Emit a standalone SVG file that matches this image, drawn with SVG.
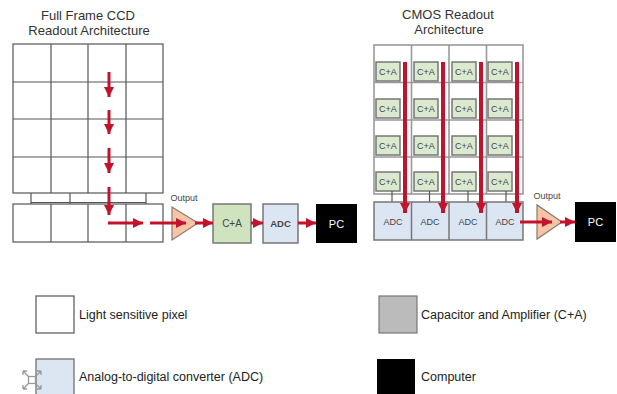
<svg xmlns="http://www.w3.org/2000/svg" width="617" height="394" viewBox="0 0 617 394">
<defs>
<style>
.t{font-family:"Liberation Sans",Arial,sans-serif;fill:#333}
.title{font-size:13px}
.leg{font-size:12.5px;fill:#222}
.grid{fill:#fff;stroke:#555;stroke-width:1.2}
.cgrid{fill:#fff;stroke:#999;stroke-width:1.6}
.ca{fill:#dbeacf;stroke:#777;stroke-width:1.5}
.adc{fill:#dce6f2;stroke:#777;stroke-width:1.5}
.pc{fill:#000}
.amp{fill:#f7c4a5;stroke:#8a7a70;stroke-width:1.2}
.red{stroke:#c3132c;stroke-width:3;fill:none}
.redb{stroke:#c3132c;stroke-width:4;fill:none}
.sm{font-size:9px;fill:#444}
.wh{fill:#fff}
.lbl{fill:#444}
</style>
<marker id="ah" viewBox="0 0 10 10" refX="10" refY="5" markerWidth="3.4" markerHeight="3.4" markerUnits="strokeWidth" orient="auto">
<path d="M0,0 L10,5 L0,10 z" fill="#c3132c"/>
</marker>
<marker id="ahb" viewBox="0 0 10 10" refX="10" refY="5" markerWidth="2.6" markerHeight="2.6" markerUnits="strokeWidth" orient="auto">
<path d="M0,0 L10,5 L0,10 z" fill="#c3132c"/>
</marker>
</defs>
<rect width="617" height="394" fill="#fff"/>

<g id="ccd-title">
<text class="t title" x="88" y="20" text-anchor="middle">Full Frame CCD</text>
<text class="t title" x="89" y="35" text-anchor="middle">Readout Architecture</text>
</g>

<g id="ccd-pixels">
<rect class="grid" x="13" y="44" width="150" height="149"/>
<path d="M51,44V193M88,44V193M126,44V193M13,82H163M13,119H163M13,157H163" stroke="#555" stroke-width="1.2" fill="none"/>
<path d="M31,193V204M70,193V204M146,193V204M31,202.5H146" stroke="#555" stroke-width="1.2" fill="none"/>
</g>

<g id="ccd-register">
<rect class="grid" x="13" y="204" width="150" height="38"/>
<path d="M51,204V242M88,204V242M126,204V242" stroke="#555" stroke-width="1.2" fill="none"/>
</g>

<g id="ccd-output">
<text class="t lbl" x="184" y="201" text-anchor="middle" font-size="9">Output</text>
<polygon class="amp" points="172,207 172,240 198,223"/>
</g>

<g id="ccd-ca">
<rect class="ca" x="213" y="204" width="38" height="39" style="fill:#cfe3bf"/>
<text class="t lbl" x="232" y="227" text-anchor="middle" font-size="10">C+A</text>
</g>

<g id="ccd-adc">
<rect class="adc" x="263" y="204" width="35" height="39"/>
<text class="t lbl" x="280.5" y="227" text-anchor="middle" font-size="9.5" font-weight="bold">ADC</text>
</g>

<g id="ccd-pc">
<rect class="pc" x="316" y="204" width="41" height="39"/>
<text class="t wh" x="336.5" y="228" text-anchor="middle" font-size="11">PC</text>
</g>

<g id="cmos-title">
<text class="t title" x="448" y="19" text-anchor="middle">CMOS Readout</text>
<text class="t title" x="449" y="34" text-anchor="middle">Architecture</text>
</g>

<g id="cmos-pixels">
<rect class="cgrid" x="374" y="45" width="149" height="149"/>
<path d="M411.5,45V194M449,45V194M486.5,45V194M374,82.5H523M374,120H523M374,157H523" stroke="#999" stroke-width="1.6" fill="none"/>
</g>

<g id="cmos-ca">
<rect class="ca" x="376" y="62" width="24" height="19"/>
<rect class="ca" x="414" y="62" width="24" height="19"/>
<rect class="ca" x="452" y="62" width="24" height="19"/>
<rect class="ca" x="488" y="62" width="24" height="19"/>
<rect class="ca" x="376" y="99" width="24" height="19"/>
<rect class="ca" x="414" y="99" width="24" height="19"/>
<rect class="ca" x="452" y="99" width="24" height="19"/>
<rect class="ca" x="488" y="99" width="24" height="19"/>
<rect class="ca" x="376" y="136" width="24" height="19"/>
<rect class="ca" x="414" y="136" width="24" height="19"/>
<rect class="ca" x="452" y="136" width="24" height="19"/>
<rect class="ca" x="488" y="136" width="24" height="19"/>
<rect class="ca" x="376" y="172" width="24" height="19"/>
<rect class="ca" x="414" y="172" width="24" height="19"/>
<rect class="ca" x="452" y="172" width="24" height="19"/>
<rect class="ca" x="488" y="172" width="24" height="19"/>
<g class="t sm" text-anchor="middle">
<text x="388" y="75">C+A</text><text x="426" y="75">C+A</text><text x="464" y="75">C+A</text><text x="500" y="75">C+A</text>
<text x="388" y="112">C+A</text><text x="426" y="112">C+A</text><text x="464" y="112">C+A</text><text x="500" y="112">C+A</text>
<text x="388" y="149">C+A</text><text x="426" y="149">C+A</text><text x="464" y="149">C+A</text><text x="500" y="149">C+A</text>
<text x="388" y="185">C+A</text><text x="426" y="185">C+A</text><text x="464" y="185">C+A</text><text x="500" y="185">C+A</text>
</g>
<path d="M392,191V202M429.5,191V202M468,191V202M506,191V202" stroke="#555" stroke-width="1.2"/>
</g>

<g id="cmos-adc">
<rect class="adc" x="374" y="202" width="149" height="38"/>
<path d="M411.5,202V240M449,202V240M486.5,202V240" stroke="#777" stroke-width="1.5"/>
<g class="t sm" text-anchor="middle">
<text x="393" y="225">ADC</text><text x="430" y="225">ADC</text><text x="468" y="225">ADC</text><text x="505" y="225">ADC</text>
</g>
</g>

<g id="cmos-output">
<text class="t lbl" x="547" y="199" text-anchor="middle" font-size="9">Output</text>
<polygon class="amp" points="537,205 537,239 562,222"/>
</g>

<g id="cmos-pc">
<rect class="pc" x="575" y="202" width="41" height="40"/>
<text class="t wh" x="595.5" y="226" text-anchor="middle" font-size="11">PC</text>
</g>

<g id="connectors">
<path class="red" d="M109,72V97" marker-end="url(#ah)"/>
<path class="red" d="M109,110V134" marker-end="url(#ah)"/>
<path class="red" d="M109,148V173" marker-end="url(#ah)"/>
<path class="red" d="M109,187V215" marker-end="url(#ah)"/>
<path class="red" d="M108,223H143" marker-end="url(#ah)"/>
<path class="red" d="M150,223H186" marker-end="url(#ah)"/>
<path class="red" d="M195,223H213" marker-end="url(#ah)"/>
<path class="red" d="M251,223H263" marker-end="url(#ah)"/>
<path class="red" d="M298,223H316" marker-end="url(#ah)"/>
<path class="redb" d="M405,62V213" marker-end="url(#ahb)"/>
<path class="redb" d="M443,62V213" marker-end="url(#ahb)"/>
<path class="redb" d="M481,62V213" marker-end="url(#ahb)"/>
<path class="redb" d="M517,62V213" marker-end="url(#ahb)"/>
<path class="red" d="M520,222H552" marker-end="url(#ah)"/>
<path class="red" d="M560,222H575" marker-end="url(#ah)"/>
</g>

<g id="legend-pixel">
<rect x="36" y="296" width="38" height="37" fill="#fff" stroke="#555" stroke-width="1.2"/>
<text class="t leg" x="79" y="319">Light sensitive pixel</text>
</g>
<g id="legend-ca">
<rect x="379" y="296" width="38" height="37" fill="#bbb" stroke="#777" stroke-width="1.2"/>
<text class="t leg" x="421" y="319">Capacitor and Amplifier (C+A)</text>
</g>
<g id="legend-adc">
<rect x="36" y="359" width="38" height="40" fill="#dce6f2" stroke="#666" stroke-width="1.2"/>
<text class="t leg" x="79" y="381">Analog-to-digital converter (ADC)</text>
</g>
<g id="legend-pc">
<rect x="377" y="359" width="38" height="40" fill="#000"/>
<text class="t leg" x="421" y="381">Computer</text>
</g>

<g id="move-icon" stroke="#999" stroke-width="1.3" fill="none">
<rect x="28.5" y="376.5" width="7" height="7"/>
<path d="M28.5,376.5L23,371M23,371h4M23,371v4M35.5,376.5L41,371M41,371h-4M41,371v4M28.5,383.5L23,389M23,389h4M23,389v-4M35.5,383.5L41,389M41,389h-4M41,389v-4"/>
</g>
</svg>
